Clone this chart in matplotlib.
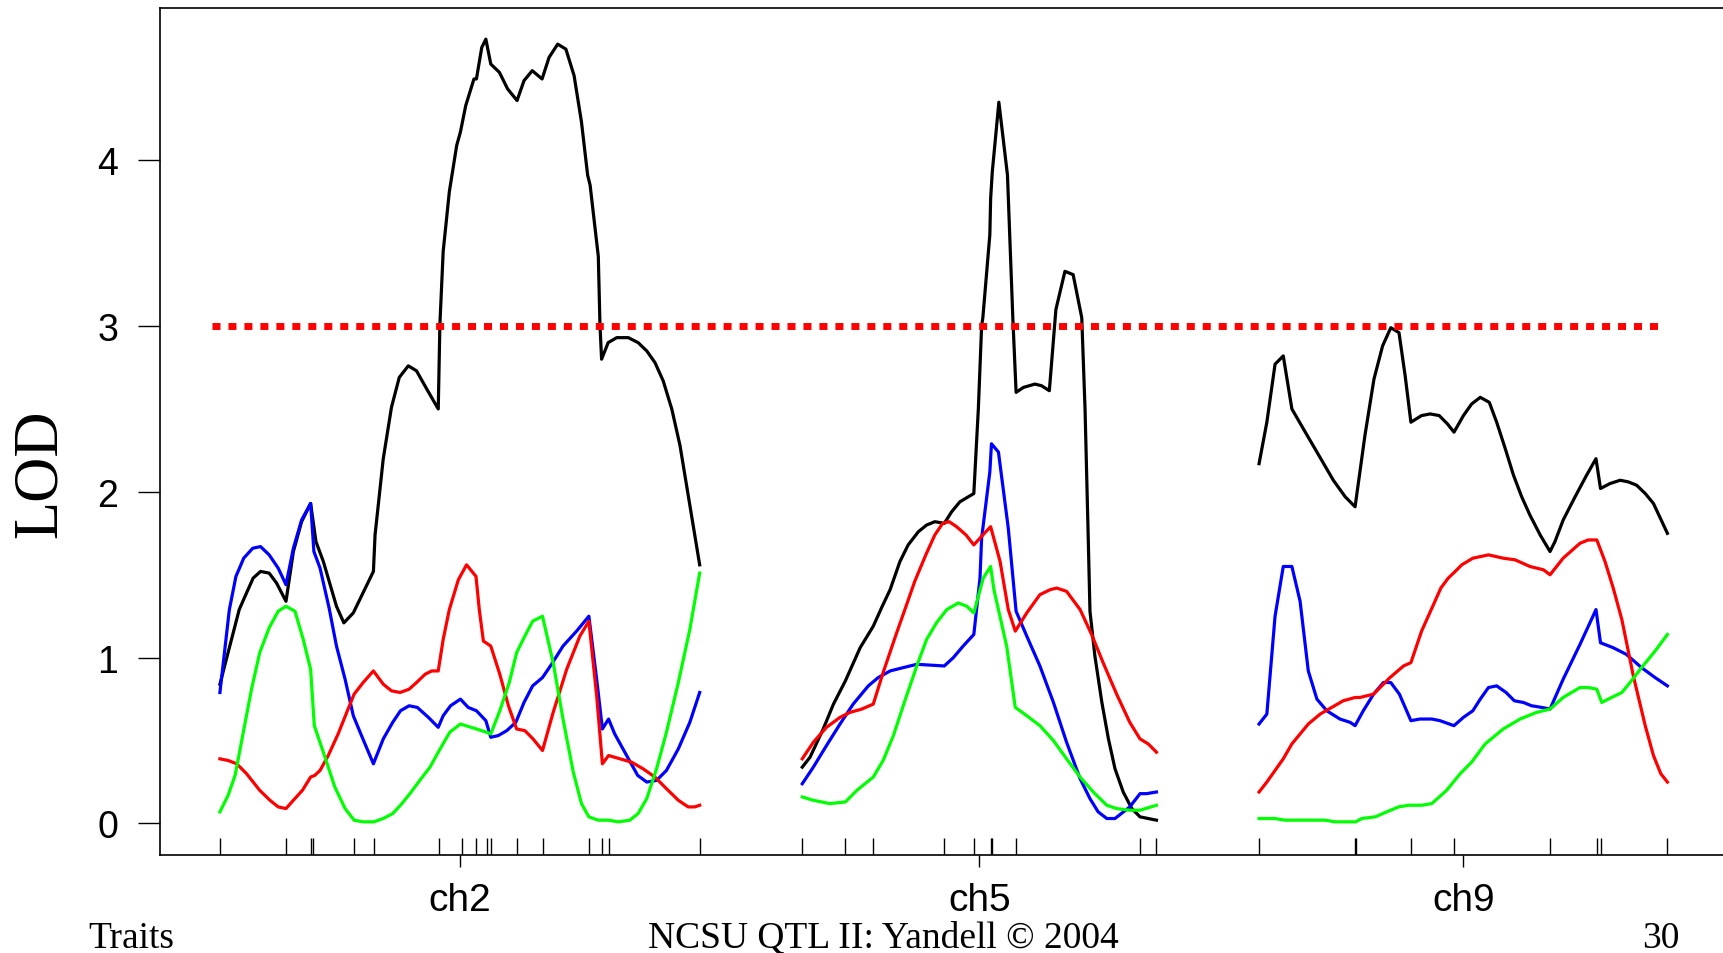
import matplotlib
matplotlib.use("Agg")
import matplotlib.pyplot as plt
import numpy as np

plt.rcParams.update({
    "font.family": "Liberation Sans",
    "lines.solid_joinstyle": "round",
})

OUT_FILE = "out.png"

## DATA (cM positions and LOD per chromosome and trait)

CHROMOSOMES = ["ch2", "ch5", "ch9"]
CHR_LENGTHS = [116.9, 86.3, 99.5]
GAP = 25.0
THRESHOLD = 3.0

ch2_markers = [0, 16.2, 22.1, 22.8, 32.7, 37.5, 53.3, 58.9, 62.5, 65.0, 66.1, 72.5, 78.7, 90.0, 93.2, 94.8, 116.9]
ch5_markers = [0, 10.5, 17.3, 34.6, 41.8, 46.0, 46.2, 52.1, 82.2, 86.3]
ch9_markers = [0, 23.4, 23.7, 37.1, 47.5, 71.0, 82.3, 83.3, 99.5]

# chromosome 2
ch2_pos_black = [0, 4.7, 6.3, 8.1, 9.9, 12.0, 13.8, 16.1, 17.9, 19.9, 22.1, 23.4, 25.2, 28.4, 30.2, 32.5, 37.4, 37.8,
                 39.8, 41.8, 43.7, 45.9, 47.9, 50.4, 53.2, 53.6, 54.4, 55.9, 57.7, 58.6, 59.9, 61.9, 62.5, 63.8,
                 64.8, 66.0, 68.1, 70.1, 72.4, 74.1, 76.1, 78.5, 80.2, 82.3, 84.3, 86.3, 88.1, 89.6, 90.2, 92.2,
                 92.6, 93.0, 94.6, 96.7, 99.5, 101.9, 104.0, 106.0, 108.0, 110.1, 112.1, 114.5, 116.9]
ch2_lod_black = [0.84, 1.29, 1.38, 1.48, 1.52, 1.51, 1.45, 1.34, 1.64, 1.82, 1.93, 1.70, 1.58, 1.31, 1.21, 1.27, 1.52, 1.74,
                 2.20, 2.51, 2.69, 2.76, 2.73, 2.62, 2.50, 3.01, 3.45, 3.81, 4.09, 4.17, 4.33, 4.49, 4.49, 4.68,
                 4.73, 4.58, 4.53, 4.43, 4.36, 4.48, 4.54, 4.49, 4.62, 4.70, 4.67, 4.51, 4.23, 3.91, 3.85, 3.42,
                 3.01, 2.80, 2.90, 2.93, 2.93, 2.90, 2.85, 2.78, 2.67, 2.50, 2.28, 1.92, 1.56]

ch2_pos_blue = [0, 2.3, 3.9, 5.8, 8.0, 9.9, 12.0, 14.2, 16.1, 17.9, 19.9, 22.1, 22.9, 24.4, 26.6, 28.4, 30.5, 32.5,
                34.5, 37.4, 39.8, 42.1, 44.0, 46.1, 48.1, 50.8, 53.2, 54.4, 56.2, 58.6, 60.5, 62.5, 64.8, 66.0,
                67.8, 69.9, 72.1, 74.1, 76.2, 78.6, 80.8, 83.6, 86.9, 89.9, 91.8, 93.2, 94.7, 96.2, 99.1, 101.8,
                104.0, 106.4, 108.8, 111.7, 114.5, 116.9]
ch2_lod_blue = [0.79, 1.29, 1.49, 1.60, 1.66, 1.67, 1.62, 1.54, 1.44, 1.66, 1.83, 1.93, 1.64, 1.54, 1.30, 1.07, 0.87, 0.65,
                0.53, 0.36, 0.51, 0.61, 0.68, 0.71, 0.70, 0.64, 0.58, 0.65, 0.71, 0.75, 0.70, 0.68, 0.62, 0.52,
                0.53, 0.56, 0.61, 0.73, 0.83, 0.88, 0.96, 1.07, 1.16, 1.25, 0.87, 0.57, 0.63, 0.54, 0.41, 0.29,
                0.25, 0.26, 0.32, 0.45, 0.61, 0.79]

ch2_pos_red = [0, 2.0, 4.1, 6.5, 9.7, 12.2, 14.2, 16.1, 17.9, 20.1, 22.1, 23.1, 24.4, 26.4, 28.8, 30.9, 32.7, 34.9,
               37.4, 39.8, 41.8, 43.9, 46.1, 47.9, 50.0, 51.6, 53.2, 54.4, 55.9, 58.1, 60.1, 62.4, 63.2, 64.2,
               66.0, 68.2, 70.3, 72.3, 74.3, 76.3, 78.6, 81.2, 84.5, 87.7, 89.9, 91.8, 93.2, 94.7, 97.5, 100.3,
               103.1, 106.0, 108.8, 111.7, 114.1, 115.7, 116.9]
ch2_lod_red = [0.39, 0.38, 0.36, 0.30, 0.20, 0.14, 0.10, 0.09, 0.14, 0.20, 0.28, 0.29, 0.32, 0.41, 0.54, 0.67, 0.78, 0.85,
               0.92, 0.84, 0.80, 0.79, 0.81, 0.85, 0.90, 0.92, 0.92, 1.11, 1.29, 1.47, 1.56, 1.49, 1.29, 1.10,
               1.07, 0.90, 0.71, 0.57, 0.56, 0.51, 0.44, 0.67, 0.93, 1.13, 1.22, 0.77, 0.36, 0.41, 0.39, 0.37,
               0.33, 0.28, 0.21, 0.14, 0.10, 0.10, 0.11]

ch2_pos_green = [0, 2.0, 3.7, 5.7, 7.7, 9.7, 12.0, 14.2, 16.1, 18.3, 20.3, 22.1, 23.0, 25.2, 28.0, 30.5, 32.7, 34.9,
                 37.5, 39.8, 42.1, 44.0, 46.3, 48.7, 51.2, 53.2, 56.0, 58.6, 62.5, 65.0, 66.0, 68.2, 70.5, 72.3,
                 74.3, 76.2, 78.6, 81.2, 83.6, 86.1, 88.1, 89.9, 92.2, 94.7, 97.1, 99.9, 101.9, 104.0, 106.4,
                 108.8, 111.7, 114.5, 116.9]
ch2_lod_green = [0.07, 0.17, 0.29, 0.55, 0.81, 1.03, 1.18, 1.28, 1.31, 1.28, 1.11, 0.93, 0.59, 0.43, 0.22, 0.09, 0.02, 0.01,
                 0.01, 0.03, 0.06, 0.11, 0.18, 0.26, 0.34, 0.43, 0.55, 0.60, 0.57, 0.55, 0.54, 0.68, 0.85, 1.03,
                 1.13, 1.22, 1.25, 0.97, 0.63, 0.31, 0.12, 0.04, 0.02, 0.02, 0.01, 0.02, 0.06, 0.15, 0.33,
                 0.55, 0.85, 1.17, 1.51]

# chromosome 5
ch5_pos_black = [0, 1.9, 5.1, 7.6, 10.5, 14.1, 17.3, 19.3, 21.4, 23.8, 25.8, 28.3, 30.3, 32.3, 34.6, 36.4, 38.4, 41.8,
                 42.9, 43.7, 44.0, 45.7, 45.9, 46.3, 47.9, 50.0, 51.3, 52.1, 53.9, 56.7, 58.3, 60.2, 61.8, 64.0,
                 66.0, 68.1, 68.9, 69.7, 70.1, 71.3, 73.0, 74.6, 76.2, 78.2, 80.3, 82.3, 86.3]
ch5_lod_black = [0.34, 0.40, 0.57, 0.72, 0.86, 1.06, 1.19, 1.30, 1.41, 1.58, 1.68, 1.76, 1.80, 1.82, 1.81, 1.88, 1.94, 1.99,
                 2.50, 3.00, 3.05, 3.55, 3.77, 3.93, 4.35, 3.91, 3.05, 2.60, 2.63, 2.65, 2.64, 2.61, 3.10, 3.33,
                 3.31, 3.05, 2.50, 1.70, 1.28, 1.01, 0.73, 0.51, 0.33, 0.19, 0.09, 0.04, 0.02]

ch5_pos_blue = [0, 2.7, 5.9, 9.2, 12.4, 16.1, 18.5, 21.4, 24.6, 27.9, 34.6, 36.8, 39.2, 41.8, 43.3, 43.7, 45.7, 46.1,
                47.8, 50.2, 52.1, 54.7, 57.9, 61.2, 64.4, 67.7, 70.1, 72.1, 74.2, 76.2, 79.8, 82.3, 83.9, 86.3]
ch5_lod_blue = [0.24, 0.34, 0.47, 0.60, 0.72, 0.83, 0.88, 0.92, 0.94, 0.96, 0.95, 1.00, 1.07, 1.14, 1.48, 1.72, 2.12, 2.29,
                2.24, 1.78, 1.28, 1.13, 0.95, 0.73, 0.49, 0.27, 0.15, 0.07, 0.03, 0.03, 0.10, 0.18, 0.18, 0.19]

ch5_pos_red = [0, 2.7, 5.9, 9.2, 11.6, 14.5, 17.3, 19.7, 23.0, 25.0, 27.4, 30.1, 32.3, 34.2, 35.8, 37.6, 39.9, 41.8,
               44.0, 45.9, 48.2, 50.2, 51.9, 54.7, 57.9, 60.4, 62.0, 64.4, 67.7, 70.5, 73.3, 76.6, 79.8, 82.3,
               84.3, 86.3]
ch5_lod_red = [0.39, 0.49, 0.58, 0.64, 0.67, 0.69, 0.72, 0.91, 1.15, 1.29, 1.46, 1.62, 1.74, 1.81, 1.82, 1.79, 1.74, 1.68,
               1.74, 1.79, 1.58, 1.29, 1.16, 1.27, 1.38, 1.41, 1.42, 1.40, 1.29, 1.14, 0.97, 0.78, 0.61, 0.51,
               0.48, 0.43]

ch5_pos_green = [0, 2.7, 6.7, 10.5, 13.3, 17.3, 19.7, 22.2, 25.0, 27.9, 30.3, 32.7, 35.2, 38.0, 40.1, 41.8, 44.1, 45.9,
                 46.7, 47.8, 49.8, 51.9, 54.7, 57.9, 61.2, 64.4, 67.7, 70.9, 74.2, 76.6, 79.8, 82.3, 86.3]
ch5_lod_green = [0.16, 0.14, 0.12, 0.13, 0.20, 0.28, 0.38, 0.53, 0.74, 0.95, 1.11, 1.21, 1.29, 1.33, 1.31, 1.27, 1.48, 1.55,
                 1.41, 1.29, 1.07, 0.70, 0.65, 0.59, 0.50, 0.39, 0.28, 0.19, 0.11, 0.09, 0.08, 0.08, 0.11]

# chromosome 9
ch9_pos_black = [0, 1.9, 3.9, 5.9, 8.0, 10.8, 14.1, 18.1, 21.0, 23.4, 25.8, 28.0, 30.1, 32.1, 34.1, 35.6, 37.0, 39.6,
                 41.7, 43.9, 45.9, 47.5, 49.8, 51.8, 53.9, 56.1, 57.9, 60.0, 62.0, 64.0, 66.0, 68.5, 70.9, 72.1,
                 74.1, 77.0, 79.8, 82.1, 83.2, 85.5, 88.0, 90.0, 92.0, 94.1, 96.1, 99.5]
ch9_lod_black = [2.17, 2.42, 2.77, 2.82, 2.50, 2.38, 2.24, 2.07, 1.97, 1.91, 2.34, 2.68, 2.88, 2.99, 2.96, 2.70, 2.42, 2.46,
                 2.47, 2.46, 2.41, 2.36, 2.46, 2.53, 2.57, 2.54, 2.42, 2.26, 2.10, 1.97, 1.86, 1.74, 1.64, 1.70,
                 1.83, 1.97, 2.10, 2.20, 2.02, 2.05, 2.07, 2.06, 2.04, 1.99, 1.93, 1.75]

ch9_pos_blue = [0, 1.9, 3.9, 5.9, 8.0, 10.0, 12.0, 14.1, 16.5, 19.7, 22.2, 23.4, 25.4, 27.9, 30.3, 32.1, 34.2, 37.0,
                39.2, 42.1, 44.1, 47.5, 49.8, 52.1, 53.9, 55.9, 57.9, 60.2, 62.2, 64.4, 66.4, 68.9, 70.9, 74.1,
                78.2, 82.1, 83.2, 86.3, 89.5, 93.2, 96.5, 99.5]
ch9_lod_blue = [0.60, 0.66, 1.25, 1.55, 1.55, 1.34, 0.92, 0.75, 0.68, 0.63, 0.61, 0.59, 0.68, 0.78, 0.85, 0.85, 0.78, 0.62,
                0.63, 0.63, 0.62, 0.59, 0.64, 0.68, 0.75, 0.82, 0.83, 0.79, 0.74, 0.73, 0.71, 0.70, 0.69, 0.87,
                1.08, 1.29, 1.09, 1.06, 1.02, 0.94, 0.88, 0.83]

ch9_pos_red = [0, 1.9, 3.9, 5.9, 8.0, 10.0, 12.0, 14.9, 17.7, 20.5, 23.4, 24.6, 27.9, 31.9, 35.2, 37.0, 39.6, 42.5,
               44.3, 46.1, 47.8, 49.4, 52.1, 55.9, 59.5, 62.4, 66.0, 69.3, 70.9, 74.1, 78.2, 80.2, 82.3, 84.3,
               86.3, 88.4, 91.2, 94.1, 96.1, 97.9, 99.5]
ch9_lod_red = [0.19, 0.25, 0.32, 0.39, 0.48, 0.54, 0.60, 0.66, 0.70, 0.74, 0.76, 0.76, 0.78, 0.88, 0.95, 0.97, 1.16, 1.32,
               1.42, 1.48, 1.52, 1.56, 1.60, 1.62, 1.60, 1.59, 1.55, 1.53, 1.50, 1.60, 1.69, 1.71, 1.71, 1.58,
               1.42, 1.23, 0.89, 0.59, 0.41, 0.30, 0.25]

ch9_pos_green = [0, 3.9, 6.3, 16.1, 18.5, 23.6, 25.0, 28.3, 31.1, 34.0, 36.4, 39.6, 42.1, 45.7, 49.0, 51.8, 55.1, 59.5,
                 63.6, 67.6, 70.9, 74.1, 78.2, 80.2, 82.3, 83.5, 85.9, 88.4, 90.4, 93.2, 96.5, 99.5]
ch9_lod_green = [0.03, 0.03, 0.02, 0.02, 0.01, 0.01, 0.03, 0.04, 0.07, 0.10, 0.11, 0.11, 0.12, 0.20, 0.30, 0.37, 0.48, 0.57,
                 0.63, 0.67, 0.69, 0.76, 0.82, 0.82, 0.81, 0.73, 0.76, 0.79, 0.85, 0.94, 1.04, 1.14]

TRAIT_COLORS = ["black", "blue", "red", "#00ff00"]

## LAYOUT (pixels of a 1724x954 picture)

FIG_W, FIG_H = 1724, 954
AX_LEFT_PX, AX_TOP_PX, AX_BOTTOM_PX = 160, 9, 856
XLIM = (-14.6, 367.3)
YLIM = (-0.19, 4.918)


## UTILITY

def chrom_offsets():
    # start of every chromosome along the genome axis
    offsets = []
    start = 0.0
    for length in CHR_LENGTHS:
        offsets.append(start)
        start += length + GAP
    return offsets


def draw_chromosome(ax, offset, curves, markers):
    for (pos, lod), color in zip(curves, TRAIT_COLORS):
        ax.plot(np.array(pos) + offset, lod, color=color, lw=2.3, zorder=3)
    # marker rug along the bottom
    ax.vlines(np.array(markers) + offset, 0, 0.02, transform=ax.get_xaxis_transform(),
              color="black", lw=1.0, zorder=2)


## PLOT

fig = plt.figure(figsize=(FIG_W / 100, FIG_H / 100), dpi=100)
ax_width = (XLIM[1] - XLIM[0]) * 4.104 / FIG_W
ax = fig.add_axes([AX_LEFT_PX / FIG_W, 1 - AX_BOTTOM_PX / FIG_H, ax_width, (AX_BOTTOM_PX - AX_TOP_PX) / FIG_H])

offsets = chrom_offsets()
draw_chromosome(ax, offsets[0],
                [(ch2_pos_black, ch2_lod_black), (ch2_pos_blue, ch2_lod_blue),
                 (ch2_pos_red, ch2_lod_red), (ch2_pos_green, ch2_lod_green)], ch2_markers)
draw_chromosome(ax, offsets[1],
                [(ch5_pos_black, ch5_lod_black), (ch5_pos_blue, ch5_lod_blue),
                 (ch5_pos_red, ch5_lod_red), (ch5_pos_green, ch5_lod_green)], ch5_markers)
draw_chromosome(ax, offsets[2],
                [(ch9_pos_black, ch9_lod_black), (ch9_pos_blue, ch9_lod_blue),
                 (ch9_pos_red, ch9_lod_red), (ch9_pos_green, ch9_lod_green)], ch9_markers)

# significance threshold
genome_end = offsets[-1] + CHR_LENGTHS[-1]
ax.plot([-2.0, genome_end - 1.5], [THRESHOLD, THRESHOLD], color="red", lw=5.0,
        linestyle=(0, (1.15, 1.15)), dash_capstyle="butt", zorder=4)

ax.set_xlim(XLIM)
ax.set_ylim(YLIM)

# chromosome labels at midpoints
mids = [o + l / 2 for o, l in zip(offsets, CHR_LENGTHS)]
ax.set_xticks(mids)
ax.set_xticklabels(CHROMOSOMES)
ax.tick_params(axis="x", direction="out", length=8.6, width=1.0, labelsize=28, pad=11)

ax.set_yticks([0, 1, 2, 3, 4])
ax.tick_params(axis="y", direction="out", length=16, width=1.0, labelsize=27, pad=14)

for side in ["left", "top", "bottom", "right"]:
    ax.spines[side].set_linewidth(1.2)

# axis title and slide footer
fig.text(41 / FIG_W, 1 - 474 / FIG_H, "LOD", rotation=90, fontsize=45,
         family="Liberation Serif", ha="center", va="center")
fig.text(88 / FIG_W, 1 - 948 / FIG_H, "Traits", fontsize=27, family="Liberation Serif",
         ha="left", va="baseline")
fig.text(883 / FIG_W, 1 - 948 / FIG_H, "NCSU QTL II: Yandell \u00a9 2004", fontsize=27,
         family="Liberation Serif", ha="center", va="baseline")
fig.text(1680 / FIG_W, 1 - 948 / FIG_H, "30", fontsize=27, family="Liberation Serif",
         ha="right", va="baseline")

plt.savefig(OUT_FILE, dpi=100)
plt.close()
